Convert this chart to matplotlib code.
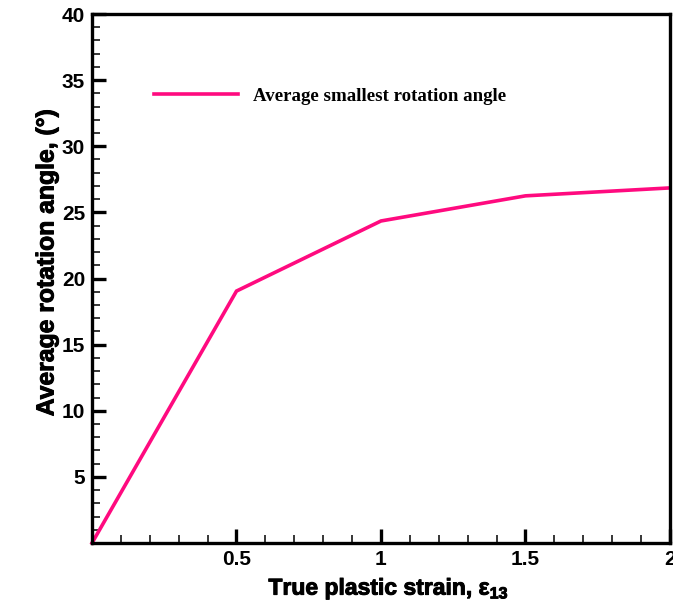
import numpy as np
import matplotlib
matplotlib.use("Agg")
import matplotlib.pyplot as plt
import matplotlib.patheffects as pe
from matplotlib.ticker import MultipleLocator, FixedLocator

# average smallest rotation angle vs. true plastic strain
strain = [0.0, 0.5, 1.0, 1.5, 2.0]
angle = [0.0, 19.05, 24.35, 26.25, 26.85]
xticks = [0.5, 1.0, 1.5, 2.0]
xticklabels = ["0.5", "1", "1.5", "2"]
yticks = [5, 10, 15, 20, 25, 30, 35, 40]

plt.rcParams['font.family'] = ['Liberation Sans', 'DejaVu Sans']
plt.rcParams['mathtext.fontset'] = 'custom'
plt.rcParams['mathtext.rm'] = 'Liberation Sans:bold'
plt.rcParams['mathtext.bf'] = 'Liberation Sans:bold'

fig = plt.figure(figsize=(6.73, 6.06), dpi=100)
ax = fig.add_axes([92 / 673, 1 - 543 / 606, (670 - 92) / 673, (543 - 14) / 606])

pink = '#ff0a7f'
ax.plot(strain, angle, color=pink, lw=2.6, label='Average smallest rotation angle',
        solid_joinstyle='miter', clip_on=False)

ax.set_xlim(0, 2)
ax.set_ylim(0, 40)
ax.xaxis.set_major_locator(FixedLocator(xticks))
ax.set_xticklabels(xticklabels)
ax.xaxis.set_minor_locator(MultipleLocator(0.1))
ax.yaxis.set_major_locator(FixedLocator(yticks))
ax.yaxis.set_minor_locator(MultipleLocator(1))

for s in ax.spines.values():
    s.set_linewidth(2.4)
ax.tick_params(which='major', direction='in', length=10, width=2.4, labelsize=15, pad=5)
ax.tick_params(which='minor', direction='in', length=6, width=1.1)
for lab in ax.get_xticklabels() + ax.get_yticklabels():
    lab.set_fontweight('bold')

# heavier look for the axis titles
heavy = [pe.withStroke(linewidth=0.7, foreground='black')]
ax.set_xlabel(r'True plastic strain, ε$_{\mathbf{13}}$', fontsize=16.5, fontweight='bold',
              path_effects=heavy)
ax.set_ylabel('Average rotation angle, (°)', fontsize=17.8, fontweight='bold',
              path_effects=heavy)
ax.xaxis.set_label_coords(0.513, -0.06)
ax.yaxis.set_label_coords(-0.058, 0.53)

ax.legend(loc='upper left', bbox_to_anchor=(0.095, 0.875), frameon=False, handlelength=4.4,
          handletextpad=0.8, borderaxespad=0,
          prop={'family': 'Liberation Serif', 'weight': 'bold', 'size': 13.6})

fig.savefig('out.png', dpi=100)
